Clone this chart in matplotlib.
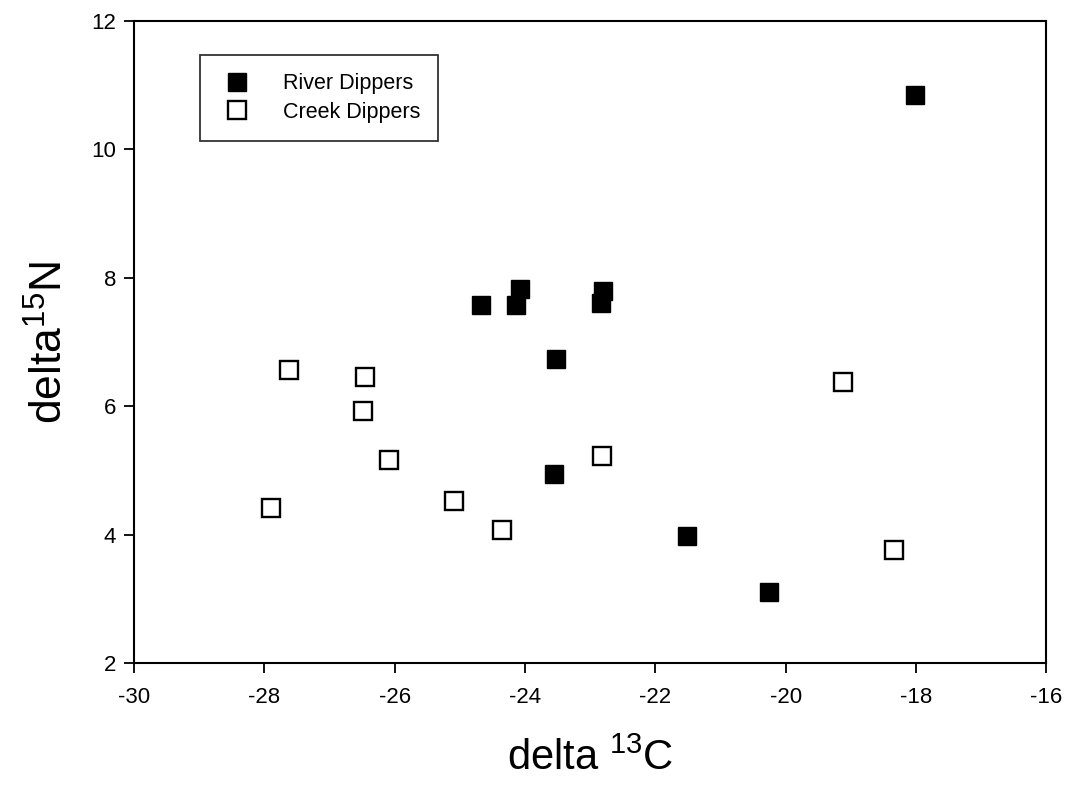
import matplotlib
matplotlib.use("Agg")
import matplotlib.pyplot as plt

plt.rcParams['font.family'] = ['Liberation Sans', 'DejaVu Sans']
plt.rcParams['mathtext.fontset'] = 'custom'
plt.rcParams['mathtext.rm'] = 'Liberation Sans'
plt.rcParams['axes.unicode_minus'] = False

# River Dippers (filled squares)
river_c = [-18.02, -24.68, -24.08, -24.14, -22.80, -22.83, -23.52, -23.55, -21.52, -20.25]
river_n = [10.85, 7.58, 7.82, 7.57, 7.79, 7.61, 6.73, 4.94, 3.98, 3.10]

# Creek Dippers (open squares)
creek_c = [-27.89, -27.62, -26.46, -26.48, -26.09, -25.09, -24.35, -22.82, -19.12, -18.34]
creek_n = [4.41, 6.57, 6.45, 5.92, 5.16, 4.52, 4.07, 5.22, 6.37, 3.76]

xticks = [-30, -28, -26, -24, -22, -20, -18, -16]
yticks = [2, 4, 6, 8, 10, 12]

fig = plt.figure(figsize=(10.72, 7.97), dpi=100)
ax = fig.add_axes([0.125, 0.168, 0.851, 0.806])

ax.plot(river_c, river_n, 's', color='black', markersize=13, label='River Dippers')
ax.plot(creek_c, creek_n, 's', markerfacecolor='white', markeredgecolor='black',
        markeredgewidth=1.7, markersize=13, label='Creek Dippers')

ax.set_xlim(-30, -16)
ax.set_ylim(2, 12)
ax.set_xticks(xticks)
ax.set_yticks(yticks)
ax.tick_params(direction='out', length=7, width=1.3, labelsize=16)
ax.tick_params(axis='x', pad=10)
ax.tick_params(axis='y', pad=6)
for sp in ax.spines.values():
    sp.set_linewidth(1.5)

ax.set_xlabel(r'delta $^{13}$C', fontsize=30, labelpad=22)
ax.set_ylabel(r'delta$^{15}$N', fontsize=32, labelpad=14)

leg = ax.legend(loc='upper left', bbox_to_anchor=(0.072, 0.947), fontsize=15.5,
                frameon=True, fancybox=False, edgecolor='black', handletextpad=1.2,
                borderpad=0.85, labelspacing=0.35, markerscale=0.95, handlelength=1.8,
                borderaxespad=0.0)
leg.get_frame().set_linewidth(1.3)

fig.savefig('out.png', dpi=100)
